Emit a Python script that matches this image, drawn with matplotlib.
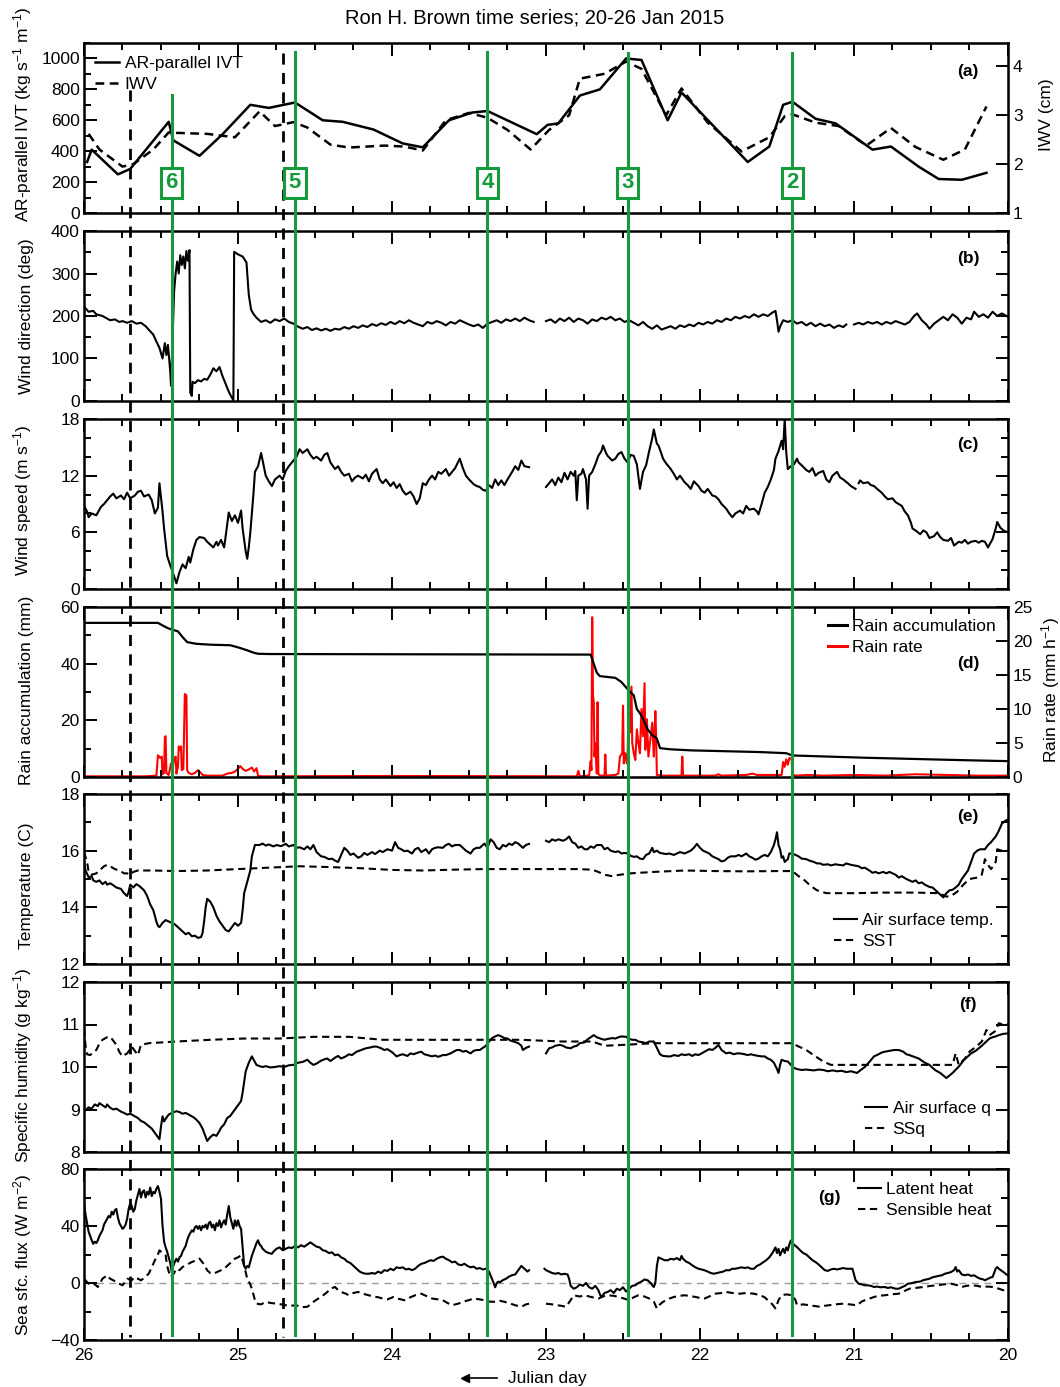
import numpy as np
import matplotlib.pyplot as plt
from matplotlib.lines import Line2D
from matplotlib.ticker import MultipleLocator
from matplotlib.transforms import blended_transform_factory

plt.rcParams['font.family'] = ['Liberation Sans', 'DejaVu Sans']
plt.rcParams['mathtext.default'] = 'regular'

nan = np.nan

''' Data: [julian day, value] '''
ivt = [[25.98, 330], [25.95, 410], [25.78, 250], [25.70, 285], [25.45, 590], [25.42, 470],
       [25.25, 370], [25.10, 510], [24.92, 700], [24.80, 680], [24.63, 715], [24.45, 600],
       [24.32, 590], [24.12, 540], [23.93, 450], [23.80, 425], [23.63, 600], [23.48, 650],
       [23.38, 660], [23.06, 510], [22.99, 570], [22.92, 580], [22.78, 760], [22.65, 800],
       [22.48, 1000], [22.38, 990], [22.21, 600], [22.12, 780], [21.69, 330], [21.55, 430],
       [21.46, 700], [21.40, 720], [21.25, 610], [21.12, 580], [20.88, 410], [20.76, 430],
       [20.58, 300], [20.45, 220], [20.30, 215], [20.14, 260]]

iwv = [[25.97, 2.62], [25.90, 2.30], [25.75, 1.95], [25.68, 2.00], [25.55, 2.30], [25.45, 2.65],
       [25.40, 2.64], [25.20, 2.62], [25.02, 2.55], [24.86, 3.08], [24.76, 2.78], [24.64, 2.86],
       [24.55, 2.75], [24.40, 2.40], [24.28, 2.34], [24.05, 2.38], [23.92, 2.36], [23.80, 2.28],
       [23.65, 2.90], [23.50, 3.05], [23.38, 2.95], [23.25, 2.70], [23.10, 2.30], [22.98, 2.70],
       [22.85, 3.00], [22.78, 3.75], [22.62, 3.85], [22.48, 4.10], [22.38, 3.95], [22.22, 3.00],
       [22.12, 3.55], [21.95, 2.85], [21.73, 2.26], [21.55, 2.55], [21.45, 2.98], [21.40, 3.02],
       [21.25, 2.85], [21.10, 2.78], [20.92, 2.38], [20.76, 2.74], [20.60, 2.35], [20.42, 2.09],
       [20.28, 2.30], [20.14, 3.18]]

wdir = [[26.00, 222], [25.97, 210], [25.94, 212], [25.92, 204], [25.88, 200], [25.85, 194],
        [25.83, 190], [25.80, 192], [25.77, 186], [25.75, 188], [25.72, 184], [25.69, 188],
        [25.66, 182], [25.63, 184], [25.60, 176], [25.58, 168], [25.55, 156], [25.53, 140],
        [25.51, 125], [25.49, 100], [25.475, 136], [25.465, 108], [25.455, 132], [25.44, 70],
        [25.435, 36], [25.425, 150], [25.415, 257], [25.405, 300], [25.395, 328], [25.385, 300],
        [25.375, 343], [25.365, 320], [25.355, 340], [25.345, 312], [25.335, 353], [25.325, 330],
        [25.315, 355], [25.31, 20], [25.30, 12], [25.295, 45], [25.28, 42], [25.26, 49],
        [25.24, 46], [25.22, 52], [25.20, 50], [25.18, 62], [25.16, 77], [25.14, 70],
        [25.12, 80], [25.10, 58], [25.08, 40], [25.06, 22], [25.04, 8], [25.03, 2],
        [25.025, 351], [25.00, 345], [24.97, 340], [24.945, 326], [24.93, 250], [24.915, 215],
        [24.90, 205], [24.88, 196], [24.85, 186], [24.82, 190], [24.79, 184], [24.76, 192],
        [24.73, 188], [24.70, 194], [24.67, 186], [24.64, 182], [24.61, 175], [24.58, 170],
        [24.55, 174], [24.52, 167], [24.49, 171], [24.46, 166], [24.43, 170], [24.40, 165],
        [24.37, 170], [24.34, 168], [24.31, 174], [24.28, 170], [24.25, 176], [24.22, 172],
        [24.19, 178], [24.16, 174], [24.13, 181], [24.10, 177], [24.07, 183], [24.04, 179],
        [24.01, 186], [23.98, 181], [23.95, 188], [23.92, 183], [23.89, 190], [23.86, 184],
        [23.83, 180], [23.80, 176], [23.77, 186], [23.74, 182], [23.71, 188], [23.68, 184],
        [23.65, 178], [23.62, 186], [23.59, 182], [23.56, 190], [23.53, 185], [23.50, 180],
        [23.47, 176], [23.44, 180], [23.41, 172], [23.38, 182], [23.35, 186], [23.32, 190],
        [23.29, 184], [23.26, 192], [23.23, 188], [23.20, 194], [23.17, 188], [23.14, 196],
        [23.11, 190], [23.08, 186], [23.05, nan], [23.00, 188], [22.97, 192], [22.94, 184],
        [22.91, 194], [22.88, 188], [22.85, 196], [22.82, 186], [22.79, 194], [22.76, 190],
        [22.73, 182], [22.70, 192], [22.67, 188], [22.64, 196], [22.61, 192], [22.58, 198],
        [22.55, 190], [22.52, 194], [22.49, 186], [22.46, 190], [22.43, 184], [22.40, 178],
        [22.37, 186], [22.34, 176], [22.31, 170], [22.28, 178], [22.25, 168], [22.22, 172],
        [22.19, 176], [22.16, 170], [22.13, 178], [22.10, 174], [22.07, 180], [22.04, 176],
        [22.01, 184], [21.98, 180], [21.95, 186], [21.92, 182], [21.89, 190], [21.86, 186],
        [21.83, 194], [21.80, 190], [21.77, 198], [21.74, 194], [21.71, 200], [21.68, 196],
        [21.65, 204], [21.62, 198], [21.59, 204], [21.56, 200], [21.53, 208], [21.51, 212],
        [21.50, 190], [21.49, 163], [21.48, 175], [21.46, 190], [21.43, 186], [21.40, 190],
        [21.37, 182], [21.34, 186], [21.31, 178], [21.28, 184], [21.25, 176], [21.22, 182],
        [21.19, 176], [21.16, 180], [21.13, 172], [21.10, 178], [21.07, 174], [21.05, 180],
        [21.025, nan], [21.00, 180], [20.97, 184], [20.94, 180], [20.91, 186], [20.88, 182],
        [20.85, 186], [20.82, 180], [20.79, 186], [20.76, 182], [20.73, 188], [20.70, 184],
        [20.67, 180], [20.64, 186], [20.61, 200], [20.59, 206], [20.56, 190], [20.53, 180],
        [20.51, 170], [20.48, 182], [20.45, 190], [20.42, 198], [20.39, 190], [20.36, 204],
        [20.33, 196], [20.30, 182], [20.27, 196], [20.24, 192], [20.22, 210], [20.19, 198],
        [20.16, 204], [20.13, 196], [20.10, 210], [20.07, 200], [20.04, 206], [20.00, 198]]

wspd = [[26.00, 8.8], [25.98, 8.2], [25.97, 7.6], [25.95, 8.0], [25.92, 7.8], [25.90, 8.4],
        [25.89, 8.7], [25.87, 9.0], [25.85, 9.4], [25.83, 9.8], [25.81, 10.1], [25.79, 9.6],
        [25.76, 9.9], [25.74, 9.5], [25.72, 10.2], [25.70, 9.6], [25.67, 9.9], [25.65, 10.3],
        [25.63, 10.4], [25.61, 9.8], [25.58, 10.0], [25.56, 9.4], [25.54, 8.0], [25.52, 8.6],
        [25.51, 11.2], [25.49, 8.2], [25.48, 6.4], [25.46, 3.5], [25.44, 2.5], [25.42, 1.6],
        [25.40, 0.6], [25.38, 1.8], [25.36, 2.6], [25.34, 2.2], [25.32, 3.4], [25.31, 2.8],
        [25.29, 4.2], [25.27, 5.2], [25.25, 5.5], [25.22, 5.4], [25.20, 5.0], [25.18, 4.7],
        [25.16, 4.4], [25.14, 5.0], [25.13, 4.6], [25.11, 5.2], [25.09, 4.4], [25.08, 5.6],
        [25.06, 8.1], [25.04, 7.2], [25.02, 7.8], [25.00, 7.0], [24.98, 8.3], [24.97, 6.4],
        [24.95, 4.0], [24.94, 3.2], [24.93, 4.4], [24.92, 6.0], [24.90, 10.0], [24.89, 12.4],
        [24.87, 13.0], [24.85, 14.4], [24.83, 12.8], [24.82, 12.0], [24.80, 11.4], [24.78, 10.9],
        [24.76, 11.6], [24.73, 12.0], [24.71, 11.6], [24.69, 12.5], [24.67, 13.0], [24.64, 13.6],
        [24.62, 14.0], [24.60, 14.8], [24.58, 14.4], [24.55, 14.8], [24.53, 14.2], [24.51, 13.8],
        [24.49, 14.0], [24.46, 13.6], [24.44, 14.2], [24.42, 14.4], [24.40, 13.4], [24.37, 12.7],
        [24.35, 13.0], [24.33, 12.4], [24.31, 12.0], [24.28, 12.2], [24.26, 11.4], [24.24, 11.8],
        [24.22, 12.0], [24.19, 11.7], [24.17, 12.1], [24.15, 11.4], [24.13, 12.2], [24.10, 12.7],
        [24.08, 11.6], [24.06, 11.2], [24.04, 11.6], [24.01, 10.9], [23.99, 11.3], [23.97, 10.7],
        [23.95, 11.1], [23.93, 10.4], [23.91, 10.0], [23.88, 10.3], [23.86, 9.8], [23.84, 9.0],
        [23.82, 9.6], [23.80, 11.2], [23.78, 11.0], [23.76, 11.6], [23.74, 12.0], [23.72, 11.6],
        [23.70, 12.4], [23.68, 12.2], [23.65, 12.7], [23.63, 12.0], [23.61, 12.4], [23.59, 12.8],
        [23.56, 13.8], [23.54, 12.8], [23.52, 12.0], [23.50, 11.6], [23.47, 11.1], [23.45, 10.9],
        [23.43, 10.8], [23.41, 10.5], [23.39, 10.4], [23.37, 11.0], [23.35, 10.7], [23.33, 11.6],
        [23.31, 11.0], [23.29, 11.5], [23.27, 11.0], [23.25, 11.6], [23.22, 12.4], [23.20, 13.0],
        [23.18, 12.6], [23.16, 13.6], [23.14, 13.0], [23.11, 12.9], [23.09, nan], [23.00, 10.8],
        [22.98, 11.2], [22.96, 11.6], [22.94, 11.0], [22.92, 11.8], [22.90, 11.3], [22.88, 12.3],
        [22.86, 11.6], [22.84, 12.4], [22.82, 12.0], [22.81, 12.5], [22.80, 9.4], [22.79, 12.0],
        [22.77, 12.2], [22.76, 12.7], [22.74, 11.6], [22.73, 8.5], [22.72, 12.0], [22.70, 12.4],
        [22.68, 13.2], [22.66, 14.1], [22.64, 14.6], [22.63, 15.2], [22.61, 14.4], [22.60, 14.1],
        [22.57, 13.6], [22.55, 13.8], [22.53, 14.3], [22.51, 14.5], [22.49, 13.8], [22.47, 13.4],
        [22.45, 14.2], [22.43, 14.1], [22.41, 13.2], [22.39, 10.6], [22.37, 12.4], [22.35, 13.1],
        [22.33, 14.6], [22.31, 16.0], [22.30, 16.9], [22.28, 15.4], [22.27, 15.2], [22.25, 14.3],
        [22.24, 13.8], [22.22, 13.3], [22.19, 12.7], [22.17, 12.2], [22.15, 11.6], [22.13, 12.0],
        [22.10, 11.3], [22.08, 11.0], [22.06, 10.6], [22.04, 11.4], [22.01, 10.9], [21.99, 10.4],
        [21.97, 10.2], [21.95, 10.6], [21.92, 9.9], [21.90, 9.8], [21.88, 9.5], [21.86, 9.0],
        [21.83, 8.5], [21.81, 8.0], [21.79, 7.6], [21.77, 8.0], [21.74, 8.3], [21.72, 8.0],
        [21.70, 8.8], [21.68, 8.4], [21.65, 8.5], [21.63, 8.2], [21.62, 7.9], [21.60, 9.0],
        [21.58, 10.2], [21.56, 10.8], [21.54, 11.6], [21.52, 12.6], [21.51, 13.8], [21.49, 14.6],
        [21.47, 15.7], [21.46, 14.8], [21.45, 18.0], [21.44, 14.5], [21.43, 12.7], [21.41, 13.0],
        [21.39, 13.2], [21.37, 13.8], [21.36, 13.4], [21.34, 13.1], [21.31, 12.6], [21.29, 12.4],
        [21.27, 12.8], [21.25, 12.0], [21.23, 12.3], [21.20, 12.5], [21.18, 11.6], [21.16, 11.3],
        [21.14, 12.0], [21.11, 12.4], [21.09, 11.8], [21.07, 11.6], [21.04, 11.2], [21.02, 10.9],
        [20.99, 10.6], [20.98, nan], [20.97, 11.2], [20.96, 11.5], [20.94, 11.2], [20.91, 11.3],
        [20.89, 11.0], [20.87, 10.9], [20.85, 10.6], [20.82, 10.2], [20.80, 9.8], [20.78, 9.5],
        [20.75, 9.6], [20.73, 9.2], [20.71, 9.0], [20.69, 8.8], [20.67, 8.2], [20.65, 7.8],
        [20.63, 7.0], [20.62, 6.4], [20.60, 6.2], [20.57, 5.8], [20.55, 6.2], [20.53, 6.0],
        [20.51, 5.4], [20.48, 5.6], [20.46, 6.0], [20.44, 5.5], [20.42, 5.2], [20.39, 5.1],
        [20.37, 5.4], [20.35, 4.6], [20.32, 5.0], [20.30, 4.9], [20.28, 5.2], [20.26, 4.8],
        [20.24, 5.0], [20.21, 5.1], [20.19, 4.9], [20.17, 5.1], [20.15, 5.0], [20.13, 4.4],
        [20.11, 5.0], [20.10, 5.3], [20.08, 6.4], [20.07, 7.1], [20.05, 6.5], [20.03, 6.2],
        [20.00, 6.0]]

rain_acc = [[26.00, 54.4], [25.52, 54.4], [25.48, 53.2], [25.45, 52.4], [25.39, 51.4], [25.36, 49.4],
            [25.33, 47.6], [25.27, 47.0], [25.18, 46.7], [25.05, 46.5], [24.99, 45.6], [24.94, 44.7],
            [24.90, 43.9], [24.87, 43.5], [24.80, 43.4], [22.71, 43.2], [22.69, 40.0], [22.67, 36.8],
            [22.65, 35.6], [22.55, 35.0], [22.51, 33.5], [22.47, 31.0], [22.43, 28.8], [22.41, 24.0],
            [22.39, 22.5], [22.37, 20.6], [22.34, 16.8], [22.31, 14.8], [22.28, 13.6], [22.26, 10.2],
            [22.20, 9.8], [22.06, 9.4], [21.61, 8.8], [21.44, 8.4], [21.40, 7.6], [20.93, 6.8],
            [20.26, 5.9], [20.00, 5.6]]

rain_rate = [[26.00, 0.1], [25.60, 0.1], [25.53, 0.2], [25.52, 3.2], [25.505, 2.8], [25.495, 3.0],
             [25.49, 0.4], [25.48, 0.6], [25.475, 5.9], [25.47, 6.0], [25.465, 0.6], [25.45, 0.3],
             [25.435, 2.0], [25.425, 1.2], [25.415, 2.6], [25.405, 3.0], [25.40, 0.5], [25.39, 1.5],
             [25.385, 4.5], [25.375, 4.0], [25.37, 4.5], [25.365, 1.0], [25.355, 1.2], [25.345, 12.2],
             [25.335, 12.0], [25.33, 1.0], [25.32, 0.6], [25.30, 0.4], [25.28, 0.6], [25.26, 1.0],
             [25.25, 0.8], [25.23, 0.3], [25.20, 0.2], [25.10, 0.2], [25.07, 0.5], [25.04, 0.6],
             [25.02, 0.8], [25.00, 1.2], [24.985, 1.6], [24.97, 1.2], [24.95, 0.9], [24.93, 1.1],
             [24.91, 1.4], [24.895, 0.8], [24.88, 1.3], [24.87, 0.2], [24.85, 0.1], [24.00, 0.15],
             [22.80, 0.1], [22.79, 0.9], [22.78, 0.1], [22.72, 0.2], [22.71, 2.3], [22.705, 1.0],
             [22.70, 23.5], [22.695, 12.0], [22.69, 11.0], [22.685, 3.0], [22.68, 5.0], [22.67, 0.5],
             [22.665, 11.0], [22.66, 0.5], [22.65, 0.2], [22.62, 0.2], [22.615, 3.3], [22.61, 0.2],
             [22.55, 0.3], [22.53, 0.5], [22.52, 3.0], [22.505, 3.5], [22.50, 10.5], [22.495, 2.0],
             [22.485, 3.5], [22.475, 2.0], [22.47, 3.0], [22.465, 9.5], [22.455, 6.5], [22.445, 13.3],
             [22.44, 5.0], [22.43, 3.5], [22.42, 2.5], [22.41, 7.0], [22.40, 5.0], [22.39, 3.5],
             [22.38, 10.0], [22.37, 6.0], [22.36, 13.8], [22.355, 4.0], [22.345, 8.5], [22.335, 3.0],
             [22.325, 5.0], [22.31, 8.0], [22.30, 3.0], [22.29, 9.7], [22.285, 6.0], [22.28, 0.3],
             [22.25, 0.2], [22.12, 0.2], [22.115, 3.0], [22.11, 0.2], [21.90, 0.2], [21.88, 0.4],
             [21.86, 0.2], [21.70, 0.3], [21.66, 0.5], [21.63, 0.3], [21.47, 0.3], [21.46, 2.2],
             [21.45, 1.5], [21.44, 2.6], [21.43, 1.8], [21.42, 2.8], [21.405, 2.6], [21.40, 0.4],
             [21.38, 0.2], [21.30, 0.3], [21.20, 0.2], [21.00, 0.3], [20.80, 0.2], [20.60, 0.4],
             [20.40, 0.3], [20.20, 0.2], [20.00, 0.2]]

t_air = [[26.00, 15.6], [25.99, 15.3], [25.97, 15.06], [25.95, 15.1], [25.94, 14.95], [25.92, 14.9],
         [25.90, 14.95], [25.88, 14.82], [25.86, 14.9], [25.85, 14.8], [25.83, 14.85], [25.81, 14.78],
         [25.79, 14.7], [25.76, 14.65], [25.74, 14.5], [25.72, 14.4], [25.71, 14.55], [25.70, 14.8],
         [25.68, 14.7], [25.66, 14.82], [25.64, 14.75], [25.61, 14.6], [25.59, 14.4], [25.57, 14.1],
         [25.55, 13.9], [25.53, 13.5], [25.52, 13.35], [25.51, 13.3], [25.49, 13.45], [25.47, 13.55],
         [25.45, 13.5], [25.43, 13.45], [25.41, 13.4], [25.38, 13.25], [25.36, 13.15], [25.34, 13.05],
         [25.32, 13.1], [25.30, 12.98], [25.28, 13.0], [25.26, 12.92], [25.24, 12.95], [25.23, 13.1],
         [25.22, 13.5], [25.21, 14.0], [25.20, 14.3], [25.18, 14.2], [25.16, 14.0], [25.14, 13.7],
         [25.12, 13.5], [25.10, 13.35], [25.08, 13.2], [25.06, 13.15], [25.04, 13.3], [25.02, 13.45],
         [25.00, 13.35], [24.98, 13.45], [24.97, 13.9], [24.96, 14.5], [24.94, 14.9], [24.92, 15.3],
         [24.91, 15.8], [24.89, 16.2], [24.86, 16.2], [24.84, 16.25], [24.82, 16.18], [24.80, 16.22],
         [24.77, 16.15], [24.75, 16.2], [24.72, 16.16], [24.69, 16.24], [24.67, 16.15], [24.64, 16.2],
         [24.62, 16.1], [24.60, 16.12], [24.57, 16.05], [24.55, 16.15], [24.53, 16.05], [24.51, 16.2],
         [24.49, 15.95], [24.46, 15.8], [24.44, 15.78], [24.41, 15.7], [24.39, 15.72], [24.37, 15.65],
         [24.35, 15.6], [24.33, 15.85], [24.31, 16.1], [24.29, 16.0], [24.27, 15.85], [24.25, 15.9],
         [24.22, 15.75], [24.20, 15.8], [24.18, 15.92], [24.16, 15.85], [24.13, 15.95], [24.11, 15.88],
         [24.08, 16.0], [24.06, 15.95], [24.03, 16.05], [24.00, 16.0], [23.98, 16.3], [23.96, 16.1],
         [23.94, 16.05], [23.92, 15.98], [23.90, 16.0], [23.87, 15.9], [23.85, 16.05], [23.83, 16.1],
         [23.81, 15.95], [23.78, 16.05], [23.76, 15.9], [23.74, 16.05], [23.72, 16.1], [23.70, 16.12],
         [23.67, 16.1], [23.65, 16.2], [23.63, 16.24], [23.61, 16.15], [23.59, 16.2], [23.56, 16.2],
         [23.54, 16.1], [23.52, 16.0], [23.49, 15.9], [23.47, 16.05], [23.45, 16.1], [23.43, 16.1],
         [23.40, 16.25], [23.38, 16.1], [23.36, 16.4], [23.34, 16.3], [23.32, 16.1], [23.30, 16.05],
         [23.28, 16.2], [23.26, 16.15], [23.24, 16.25], [23.22, 16.2], [23.20, 16.3], [23.18, 16.25],
         [23.15, 16.1], [23.13, 16.2], [23.11, 16.24], [23.09, nan], [23.00, 16.35], [22.98, 16.3],
         [22.96, 16.4], [22.94, 16.35], [22.92, 16.4], [22.89, 16.35], [22.87, 16.4], [22.85, 16.5],
         [22.83, 16.3], [22.81, 16.25], [22.79, 16.1], [22.77, 16.15], [22.75, 16.05], [22.73, 16.05],
         [22.71, 16.15], [22.69, 16.1], [22.67, 16.2], [22.64, 16.2], [22.62, 16.05], [22.60, 16.1],
         [22.58, 16.0], [22.55, 15.95], [22.53, 15.98], [22.51, 15.9], [22.49, 15.92], [22.47, 15.9],
         [22.45, 15.82], [22.43, 15.78], [22.41, 15.8], [22.39, 15.72], [22.37, 15.7], [22.35, 15.85],
         [22.33, 15.9], [22.31, 16.1], [22.30, 15.95], [22.28, 16.0], [22.26, 15.92], [22.24, 15.9],
         [22.22, 15.88], [22.20, 15.9], [22.17, 15.85], [22.15, 15.9], [22.13, 15.95], [22.10, 15.9],
         [22.08, 15.95], [22.06, 16.0], [22.04, 16.1], [22.02, 16.24], [22.00, 16.1], [21.98, 16.0],
         [21.96, 15.95], [21.94, 15.9], [21.92, 15.8], [21.90, 15.75], [21.88, 15.7], [21.86, 15.62],
         [21.84, 15.65], [21.82, 15.75], [21.80, 15.8], [21.77, 15.8], [21.75, 15.85], [21.73, 15.8],
         [21.70, 15.9], [21.68, 15.8], [21.66, 15.75], [21.64, 15.68], [21.62, 15.72], [21.60, 15.8],
         [21.58, 15.85], [21.56, 15.8], [21.54, 15.95], [21.52, 16.2], [21.51, 16.4], [21.50, 16.65],
         [21.49, 16.2], [21.48, 16.05], [21.47, 15.75], [21.46, 15.8], [21.45, 15.6], [21.43, 15.7],
         [21.42, 15.9], [21.40, 15.9], [21.38, 15.85], [21.36, 15.8], [21.34, 15.72], [21.31, 15.7],
         [21.29, 15.65], [21.26, 15.6], [21.24, 15.55], [21.22, 15.55], [21.20, 15.5], [21.17, 15.52],
         [21.15, 15.48], [21.12, 15.52], [21.10, 15.5], [21.07, 15.48], [21.05, 15.55], [21.02, 15.5],
         [21.00, 15.48], [20.97, 15.45], [20.95, 15.38], [20.93, 15.4], [20.90, 15.3], [20.88, 15.22],
         [20.86, 15.25], [20.84, 15.2], [20.81, 15.25], [20.79, 15.2], [20.77, 15.25], [20.75, 15.2],
         [20.73, 15.15], [20.71, 15.05], [20.69, 15.1], [20.66, 15.0], [20.64, 14.95], [20.62, 14.9],
         [20.60, 14.95], [20.58, 14.85], [20.56, 14.88], [20.54, 14.8], [20.51, 14.72], [20.49, 14.7],
         [20.47, 14.6], [20.45, 14.5], [20.43, 14.4], [20.42, 14.35], [20.40, 14.5], [20.38, 14.6],
         [20.36, 14.62], [20.34, 14.7], [20.32, 14.8], [20.30, 15.0], [20.28, 15.15], [20.26, 15.3],
         [20.24, 15.6], [20.22, 15.9], [20.20, 16.0], [20.18, 16.05], [20.15, 16.05], [20.13, 16.2],
         [20.11, 16.3], [20.08, 16.5], [20.06, 16.7], [20.04, 16.95], [20.02, 17.05], [20.00, 17.1]]

sst = [[26.00, 15.95], [25.98, 15.6], [25.97, 15.25], [25.95, 15.15], [25.92, 15.2], [25.89, 15.35],
       [25.87, 15.45], [25.85, 15.5], [25.83, 15.45], [25.80, 15.35], [25.77, 15.3], [25.74, 15.2],
       [25.72, 15.2], [25.70, 15.15], [25.68, 15.25], [25.65, 15.3], [25.55, 15.3], [25.40, 15.28],
       [25.20, 15.3], [25.00, 15.35], [24.80, 15.4], [24.60, 15.45], [24.40, 15.42], [24.20, 15.38],
       [24.00, 15.32], [23.80, 15.3], [23.60, 15.33], [23.40, 15.35], [23.20, 15.35], [23.00, 15.35],
       [22.80, 15.35], [22.70, 15.33], [22.66, 15.25], [22.62, 15.15], [22.57, 15.1], [22.52, 15.15],
       [22.45, 15.2], [22.30, 15.25], [22.10, 15.3], [21.90, 15.28], [21.70, 15.27], [21.50, 15.28],
       [21.40, 15.28], [21.36, 15.1], [21.32, 14.95], [21.28, 14.75], [21.24, 14.6], [21.18, 14.5],
       [21.00, 14.5], [20.80, 14.52], [20.60, 14.52], [20.45, 14.5], [20.40, 14.38], [20.37, 14.4],
       [20.33, 14.55], [20.29, 14.8], [20.25, 15.0], [20.20, 15.05], [20.17, 15.15], [20.15, 15.7],
       [20.13, 15.5], [20.11, 15.35], [20.08, 15.6], [20.07, 16.05], [20.04, 16.0], [20.00, 16.0]]

q_air = [[26.00, 9.0], [25.99, 8.98], [25.97, 9.05], [25.95, 9.02], [25.93, 9.12], [25.91, 9.08],
         [25.90, 9.15], [25.88, 9.1], [25.86, 9.05], [25.85, 9.12], [25.83, 9.04], [25.81, 9.0],
         [25.79, 9.02], [25.76, 8.95], [25.74, 8.92], [25.72, 8.88], [25.70, 8.9], [25.67, 8.84],
         [25.65, 8.8], [25.63, 8.73], [25.61, 8.7], [25.58, 8.61], [25.56, 8.55], [25.54, 8.45],
         [25.53, 8.4], [25.51, 8.3], [25.50, 8.6], [25.49, 8.84], [25.48, 8.72], [25.47, 8.78],
         [25.45, 8.88], [25.43, 8.92], [25.40, 8.96], [25.38, 8.94], [25.36, 8.9], [25.34, 8.92],
         [25.31, 8.86], [25.29, 8.82], [25.27, 8.76], [25.25, 8.68], [25.23, 8.55], [25.22, 8.45],
         [25.20, 8.26], [25.18, 8.35], [25.16, 8.41], [25.14, 8.38], [25.12, 8.5], [25.11, 8.57],
         [25.09, 8.65], [25.07, 8.8], [25.05, 8.85], [25.03, 8.95], [25.02, 9.0], [25.00, 9.1],
         [24.98, 9.2], [24.97, 9.4], [24.96, 9.65], [24.95, 9.9], [24.93, 10.1], [24.91, 10.25],
         [24.90, 10.18], [24.88, 10.05], [24.86, 10.02], [24.84, 10.0], [24.82, 10.02], [24.79, 9.99],
         [24.76, 10.0], [24.73, 10.02], [24.70, 10.0], [24.67, 10.04], [24.64, 10.05], [24.61, 10.1],
         [24.58, 10.12], [24.55, 10.17], [24.53, 10.1], [24.51, 10.05], [24.49, 10.08], [24.46, 10.15],
         [24.44, 10.18], [24.42, 10.2], [24.40, 10.14], [24.37, 10.22], [24.35, 10.26], [24.33, 10.2],
         [24.30, 10.25], [24.28, 10.3], [24.26, 10.28], [24.23, 10.36], [24.20, 10.4], [24.17, 10.44],
         [24.14, 10.46], [24.12, 10.48], [24.10, 10.48], [24.07, 10.44], [24.05, 10.4], [24.03, 10.42],
         [24.00, 10.35], [23.97, 10.25], [23.95, 10.28], [23.93, 10.3], [23.90, 10.26], [23.88, 10.32],
         [23.86, 10.3], [23.83, 10.34], [23.81, 10.36], [23.79, 10.3], [23.77, 10.28], [23.74, 10.25],
         [23.72, 10.27], [23.70, 10.24], [23.67, 10.28], [23.65, 10.28], [23.62, 10.32], [23.60, 10.36],
         [23.58, 10.4], [23.56, 10.4], [23.54, 10.36], [23.52, 10.38], [23.49, 10.32], [23.47, 10.38],
         [23.45, 10.4], [23.43, 10.4], [23.41, 10.45], [23.39, 10.5], [23.37, 10.6], [23.35, 10.68],
         [23.33, 10.72], [23.31, 10.75], [23.29, 10.72], [23.27, 10.68], [23.25, 10.67], [23.23, 10.62],
         [23.21, 10.6], [23.18, 10.56], [23.16, 10.5], [23.15, 10.4], [23.13, 10.45], [23.11, 10.48],
         [23.09, nan], [23.00, 10.32], [22.98, 10.44], [22.96, 10.46], [22.94, 10.5], [22.91, 10.52],
         [22.89, 10.5], [22.87, 10.46], [22.84, 10.44], [22.82, 10.48], [22.80, 10.5], [22.78, 10.56],
         [22.75, 10.58], [22.73, 10.65], [22.71, 10.7], [22.69, 10.75], [22.67, 10.7], [22.64, 10.66],
         [22.62, 10.64], [22.60, 10.66], [22.57, 10.68], [22.55, 10.67], [22.53, 10.7], [22.51, 10.72],
         [22.48, 10.71], [22.46, 10.66], [22.44, 10.64], [22.42, 10.64], [22.40, 10.6], [22.37, 10.58],
         [22.35, 10.56], [22.33, 10.6], [22.30, 10.6], [22.28, 10.45], [22.26, 10.3], [22.24, 10.26],
         [22.21, 10.25], [22.19, 10.25], [22.17, 10.28], [22.14, 10.26], [22.12, 10.3], [22.10, 10.28],
         [22.07, 10.3], [22.05, 10.26], [22.03, 10.3], [22.01, 10.28], [21.98, 10.34], [21.96, 10.38],
         [21.94, 10.42], [21.92, 10.4], [21.90, 10.45], [21.88, 10.52], [21.86, 10.4], [21.83, 10.32],
         [21.81, 10.34], [21.78, 10.3], [21.76, 10.32], [21.74, 10.32], [21.71, 10.3], [21.69, 10.28],
         [21.67, 10.3], [21.65, 10.28], [21.62, 10.26], [21.60, 10.25], [21.58, 10.25], [21.56, 10.2],
         [21.54, 10.17], [21.52, 10.1], [21.50, 9.95], [21.49, 9.86], [21.48, 10.05], [21.47, 10.17],
         [21.45, 10.14], [21.43, 10.13], [21.41, 10.05], [21.39, 9.98], [21.37, 9.95], [21.34, 9.93],
         [21.31, 9.94], [21.29, 9.93], [21.26, 9.92], [21.23, 9.94], [21.20, 9.93], [21.17, 9.9],
         [21.14, 9.92], [21.11, 9.9], [21.08, 9.91], [21.05, 9.88], [21.02, 9.9], [21.00, 9.88],
         [20.98, 9.86], [20.96, 9.92], [20.93, 10.0], [20.90, 10.12], [20.87, 10.25], [20.84, 10.3],
         [20.82, 10.34], [20.80, 10.36], [20.77, 10.38], [20.74, 10.4], [20.71, 10.4], [20.68, 10.36],
         [20.66, 10.3], [20.64, 10.28], [20.61, 10.24], [20.58, 10.2], [20.56, 10.15], [20.54, 10.1],
         [20.51, 10.05], [20.49, 9.98], [20.47, 9.92], [20.44, 9.86], [20.42, 9.8], [20.40, 9.74],
         [20.38, 9.8], [20.36, 9.86], [20.33, 9.97], [20.31, 10.05], [20.29, 10.15], [20.26, 10.25],
         [20.24, 10.32], [20.21, 10.38], [20.19, 10.44], [20.17, 10.5], [20.14, 10.6], [20.12, 10.67],
         [20.10, 10.7], [20.08, 10.72], [20.06, 10.75], [20.03, 10.78], [20.00, 10.79]]

ssq = [[26.00, 10.9], [25.99, 10.5], [25.98, 10.3], [25.96, 10.28], [25.94, 10.35], [25.92, 10.4],
       [25.90, 10.55], [25.88, 10.64], [25.85, 10.7], [25.83, 10.71], [25.81, 10.62], [25.79, 10.52],
       [25.77, 10.35], [25.75, 10.25], [25.73, 10.3], [25.72, 10.32], [25.70, 10.42], [25.69, 10.48],
       [25.67, 10.38], [25.65, 10.28], [25.64, 10.4], [25.63, 10.52], [25.58, 10.56], [25.40, 10.6],
       [25.18, 10.64], [24.96, 10.67], [24.73, 10.67], [24.51, 10.71], [24.28, 10.71], [24.06, 10.64],
       [23.83, 10.64], [23.61, 10.64], [23.38, 10.64], [23.16, 10.64], [22.90, 10.6], [22.70, 10.6],
       [22.62, 10.5], [22.50, 10.52], [22.30, 10.56], [22.00, 10.56], [21.70, 10.56], [21.40, 10.56],
       [21.37, 10.5], [21.31, 10.4], [21.25, 10.25], [21.20, 10.13], [21.15, 10.05], [20.90, 10.05],
       [20.60, 10.05], [20.36, 10.05], [20.34, 10.32], [20.32, 10.05], [20.28, 10.2], [20.25, 10.36],
       [20.20, 10.5], [20.17, 10.6], [20.14, 10.87], [20.12, 10.75], [20.08, 10.85], [20.06, 11.03],
       [20.03, 11.0], [20.00, 11.0]]

latent = [[26.00, 56], [25.99, 48], [25.98, 42], [25.97, 36], [25.96, 33], [25.95, 30], [25.94, 27.5],
          [25.93, 29], [25.92, 28], [25.91, 30], [25.90, 33], [25.89, 35], [25.88, 37], [25.87, 41],
          [25.86, 43], [25.85, 45], [25.84, 47], [25.83, 46], [25.82, 50], [25.81, 48], [25.80, 51],
          [25.79, 52], [25.78, 46], [25.77, 42], [25.76, 40], [25.75, 38], [25.74, 39], [25.73, 41],
          [25.72, 45], [25.71, 52], [25.70, 56], [25.69, 54], [25.68, 50], [25.67, 52], [25.66, 58],
          [25.65, 62], [25.64, 66], [25.63, 60], [25.62, 64], [25.61, 65], [25.60, 60], [25.59, 64],
          [25.58, 62], [25.57, 67], [25.56, 61], [25.55, 64], [25.54, 63], [25.53, 66], [25.52, 68],
          [25.51, 64], [25.50, 59], [25.49, 40], [25.48, 29], [25.47, 25], [25.46, 22], [25.45, 18],
          [25.44, 14], [25.43, 7.7], [25.42, 12], [25.41, 15], [25.40, 17], [25.39, 15], [25.38, 18],
          [25.37, 19], [25.36, 22], [25.35, 24], [25.34, 26], [25.33, 30], [25.32, 33], [25.31, 35],
          [25.30, 37], [25.29, 36], [25.28, 39], [25.27, 40], [25.26, 38], [25.25, 40], [25.24, 37],
          [25.23, 40], [25.22, 39], [25.21, 41], [25.20, 38], [25.19, 42], [25.18, 43], [25.17, 39],
          [25.16, 41], [25.15, 37], [25.14, 42], [25.13, 40], [25.12, 44], [25.11, 39], [25.10, 42],
          [25.09, 44], [25.08, 41], [25.07, 48], [25.06, 54], [25.05, 46], [25.04, 42], [25.03, 38],
          [25.02, 44], [25.01, 40], [25.00, 44], [24.99, 40], [24.98, 38], [24.97, 25], [24.96, 12],
          [24.95, 10], [24.94, 12], [24.93, 11], [24.92, 15], [24.91, 19], [24.90, 22], [24.89, 25],
          [24.88, 28], [24.87, 30], [24.86, 27], [24.85, 26], [24.84, 24], [24.83, 23], [24.82, 22],
          [24.80, 21], [24.78, 20.5], [24.77, 22], [24.75, 24], [24.73, 25], [24.71, 23], [24.69, 24],
          [24.67, 25], [24.65, 24.5], [24.63, 26], [24.61, 25], [24.59, 26.5], [24.57, 25.5], [24.55, 27],
          [24.53, 28.5], [24.51, 27], [24.49, 25.5], [24.47, 25], [24.45, 23], [24.43, 22.5], [24.41, 21],
          [24.39, 21.5], [24.37, 19.5], [24.35, 20], [24.33, 18], [24.31, 17], [24.29, 15], [24.27, 14],
          [24.25, 12], [24.23, 10], [24.21, 8], [24.19, 7], [24.17, 6.5], [24.15, 6.5], [24.13, 7],
          [24.11, 6.5], [24.09, 8], [24.07, 7], [24.05, 9], [24.03, 8.5], [24.01, 10], [23.99, 9],
          [23.97, 11], [23.95, 10.5], [23.93, 11], [23.91, 9.5], [23.89, 10], [23.87, 9], [23.85, 10],
          [23.83, 12], [23.81, 13.5], [23.79, 14], [23.77, 15], [23.75, 16], [23.73, 15.5], [23.71, 17],
          [23.69, 18], [23.67, 18.5], [23.65, 17], [23.63, 16], [23.61, 14.5], [23.59, 15], [23.57, 13],
          [23.55, 12.5], [23.53, 13.5], [23.51, 12], [23.49, 11], [23.47, 11.5], [23.45, 10], [23.43, 10.5],
          [23.41, 9.5], [23.39, 10], [23.37, 8], [23.36, 5.4], [23.35, 3], [23.34, 0], [23.33, -3],
          [23.32, 0], [23.31, 1], [23.30, 0.5], [23.28, 2], [23.26, 3], [23.24, 4.5], [23.22, 5.5],
          [23.20, 6], [23.18, 9], [23.16, 12], [23.14, 10], [23.12, 8], [23.11, 9], [23.09, nan],
          [23.01, 10], [23.00, 9], [22.98, 8], [22.96, 7], [22.94, 6.5], [22.92, 7], [22.90, 6],
          [22.88, 6.5], [22.86, 6], [22.85, 3], [22.84, -2], [22.83, -3], [22.82, -4], [22.80, -3],
          [22.78, -1], [22.76, -2], [22.74, 0], [22.72, -3], [22.70, -4], [22.68, -2], [22.66, -5],
          [22.65, -8], [22.64, -9.8], [22.62, -7], [22.60, -6.3], [22.58, -5], [22.56, -7], [22.54, -4],
          [22.52, -5], [22.50, -3], [22.48, -6], [22.46, -4], [22.44, -2], [22.42, -1.6], [22.40, 0],
          [22.38, 1], [22.36, 2.5], [22.34, 1.9], [22.32, 0], [22.31, -1.6], [22.30, -2.8], [22.29, 0],
          [22.28, 12], [22.27, 18], [22.25, 17], [22.23, 16], [22.21, 15.9], [22.19, 17], [22.17, 16.5],
          [22.15, 17.5], [22.13, 16], [22.12, 19], [22.11, 17], [22.09, 15], [22.07, 14], [22.05, 12.4],
          [22.03, 11], [22.01, 10], [21.99, 9.5], [21.97, 8.9], [21.95, 8], [21.93, 7], [21.91, 6.5],
          [21.89, 7], [21.87, 7.5], [21.85, 8], [21.83, 9], [21.81, 8.9], [21.79, 10], [21.77, 10],
          [21.75, 10.5], [21.73, 11], [21.71, 10.5], [21.69, 11], [21.67, 10], [21.65, 10], [21.63, 12],
          [21.61, 13], [21.59, 14.5], [21.57, 16], [21.55, 18], [21.53, 21], [21.52, 23], [21.51, 25],
          [21.50, 21], [21.49, 24], [21.48, 19.4], [21.47, 22], [21.46, 24], [21.45, 21], [21.44, 25],
          [21.43, 22.9], [21.42, 27], [21.41, 29.8], [21.40, 28], [21.39, 27], [21.38, 26], [21.37, 25.2],
          [21.35, 23], [21.33, 21], [21.31, 20], [21.29, 18], [21.27, 16], [21.25, 14.7], [21.23, 13],
          [21.21, 11], [21.19, 9], [21.17, 8.5], [21.15, 9.5], [21.13, 10], [21.11, 9.5], [21.09, 10],
          [21.07, 10.5], [21.05, 10], [21.03, 10], [21.01, 10], [21.00, 6], [20.99, 2], [20.97, -0.5],
          [20.95, -1], [20.93, -1.6], [20.91, -1.6], [20.89, -2], [20.87, -2.8], [20.85, -2.5],
          [20.83, -3], [20.80, -2.8], [20.78, -3.5], [20.76, -3], [20.73, -4], [20.71, -4], [20.69, -3],
          [20.67, -2], [20.65, -0.5], [20.62, 0], [20.60, 0.7], [20.57, 1], [20.55, 2], [20.53, 2.5],
          [20.51, 3], [20.49, 4], [20.47, 4.5], [20.45, 5], [20.43, 5.4], [20.41, 6.5], [20.39, 7],
          [20.37, 7.7], [20.35, 9], [20.34, 11.2], [20.33, 8], [20.32, 9], [20.30, 6], [20.28, 5.4],
          [20.26, 6], [20.24, 5], [20.22, 5.4], [20.20, 4], [20.18, 3], [20.16, 2.5], [20.15, 1.9],
          [20.13, 3], [20.11, 4], [20.10, 4.2], [20.09, 7], [20.08, 10], [20.07, 11.2], [20.06, 10],
          [20.04, 8.5], [20.03, 7.7], [20.01, 6], [20.00, 5.4]]

sensible = [[26.00, 3], [25.97, -0.5], [25.94, 0], [25.91, -2.8], [25.89, 1], [25.88, 3], [25.85, 5.4],
            [25.83, 3], [25.81, 1.9], [25.78, 0], [25.75, -1.6], [25.73, 1], [25.72, 3], [25.69, 2],
            [25.67, 4.2], [25.65, 3], [25.63, 1.9], [25.61, 3.5], [25.58, 6.5], [25.56, 11], [25.54, 15.9],
            [25.52, 20], [25.51, 22.9], [25.49, 21], [25.47, 19.4], [25.46, 12], [25.44, 4.2], [25.42, 6],
            [25.40, 10], [25.38, 9], [25.36, 11.2], [25.33, 13], [25.30, 14.7], [25.27, 16], [25.25, 17.1],
            [25.22, 13], [25.20, 8.9], [25.18, 7], [25.16, 6.5], [25.13, 8], [25.11, 9], [25.09, 10],
            [25.06, 13], [25.04, 15], [25.02, 17.1], [25.00, 18], [24.98, 19.4], [24.96, 12], [24.94, 3],
            [24.92, -1], [24.91, -4], [24.90, -8], [24.89, -12], [24.88, -14.5], [24.85, -15],
            [24.82, -13.2], [24.79, -14], [24.75, -14.5], [24.72, -15], [24.69, -15.6], [24.66, -16],
            [24.62, -15.6], [24.59, -17], [24.55, -16.7], [24.53, -15], [24.51, -13.2], [24.48, -11],
            [24.46, -9.8], [24.44, -8], [24.42, -6.3], [24.40, -4], [24.37, -2.8], [24.35, -5],
            [24.33, -6.3], [24.30, -7.5], [24.28, -8.6], [24.25, -7], [24.22, -6.3], [24.19, -7.5],
            [24.15, -8.6], [24.12, -9.5], [24.09, -10], [24.06, -10.9], [24.03, -11.5], [23.99, -9.8],
            [23.96, -11], [23.92, -12.1], [23.88, -10], [23.85, -8.6], [23.81, -7.5], [23.78, -9],
            [23.74, -10.9], [23.70, -11.5], [23.67, -12.1], [23.64, -14], [23.61, -15.6], [23.57, -14.5],
            [23.54, -13.2], [23.50, -12], [23.47, -10.9], [23.43, -11.5], [23.40, -12.1], [23.37, -13],
            [23.34, -13.2], [23.30, -12.5], [23.27, -13.2], [23.23, -14.5], [23.20, -15.6], [23.16, -16.7],
            [23.13, -15], [23.11, -14.5], [23.09, nan], [23.00, -14.5], [22.96, -15], [22.93, -15.6],
            [22.90, -16], [22.87, -16.7], [22.84, -12], [22.82, -8.6], [22.78, -9.5], [22.75, -8.6],
            [22.70, -10], [22.66, -10.9], [22.63, -9.5], [22.60, -8.6], [22.56, -9], [22.53, -9.8],
            [22.49, -11], [22.46, -12.1], [22.43, -10], [22.40, -8.6], [22.36, -9.5], [22.33, -10.9],
            [22.30, -13], [22.28, -17.9], [22.26, -15], [22.24, -13.2], [22.20, -11], [22.17, -9.8],
            [22.13, -9], [22.10, -8.6], [22.06, -9.2], [22.03, -9.8], [22.00, -10.5], [21.97, -10.9],
            [21.93, -9], [21.90, -7.5], [21.86, -7], [21.83, -6.3], [21.79, -7], [21.74, -7.5],
            [21.70, -7], [21.65, -7.5], [21.61, -8.6], [21.58, -10], [21.56, -12.1], [21.53, -15],
            [21.51, -17.9], [21.49, -12], [21.47, -8.6], [21.44, -8], [21.40, -8.6], [21.38, -12],
            [21.37, -15.6], [21.33, -15], [21.29, -15.6], [21.26, -16], [21.22, -16.7], [21.19, -16],
            [21.16, -15.6], [21.12, -15], [21.07, -14.5], [21.03, -15], [20.98, -15.6], [20.95, -13],
            [20.93, -12.1], [20.90, -11], [20.87, -9.8], [20.84, -9], [20.80, -8.6], [20.76, -8],
            [20.71, -7.5], [20.68, -6], [20.64, -4], [20.60, -3.5], [20.55, -2.8], [20.50, -2],
            [20.46, -1.6], [20.42, -1], [20.37, -0.5], [20.33, -1.5], [20.30, -2.8], [20.27, -2],
            [20.24, -1.6], [20.20, -2], [20.17, -2.8], [20.13, -2.5], [20.10, -2.8], [20.06, -4],
            [20.03, -5.1], [20.00, -4]]

# event markers (julian day)
event_days = [25.43, 24.63, 23.38, 22.47, 21.40]
event_labels = ['6', '5', '4', '3', '2']
front_days = [25.70, 24.71]

''' Layout (pixels) '''
W, H = 1060, 1387
green = '#159a3c'
lw_data = 1.5
panel_px = [(43, 213), (231, 401), (419, 589), (607, 777), (794, 964), (982, 1152), (1169, 1340)]
left_px, right_px = 84, 1008

fig = plt.figure(figsize=(W / 100, H / 100), dpi=100)
axes = []
for top, bot in panel_px:
    ax = fig.add_axes([left_px / W, 1 - bot / H, (right_px - left_px) / W, (bot - top) / H])
    axes.append(ax)


def xy(series):
    arr = np.array(series, dtype=float)
    return arr[:, 0], arr[:, 1]


def style(ax, ylim, major, minor=None, right=True, bottom_labels=False):
    ax.set_xlim(26, 20)
    ax.set_ylim(*ylim)
    ax.xaxis.set_major_locator(MultipleLocator(1))
    ax.xaxis.set_minor_locator(MultipleLocator(0.25))
    ax.yaxis.set_major_locator(MultipleLocator(major))
    if minor:
        ax.yaxis.set_minor_locator(MultipleLocator(minor))
    ax.tick_params(which='both', direction='in', top=True, right=right, width=1.4,
                   labelsize=12.5, pad=3)
    ax.tick_params(which='major', length=9)
    ax.tick_params(which='minor', length=5)
    ax.tick_params(axis='x', labelbottom=bottom_labels)
    for sp in ax.spines.values():
        sp.set_linewidth(1.8)


def ylab(ax, text, yc=0.5, side='left'):
    if side == 'left':
        ax.set_ylabel(text, fontsize=12.5)
        ax.yaxis.set_label_coords(-0.054, yc)
    else:
        ax.set_ylabel(text, fontsize=12.5, rotation=90)
        ax.yaxis.set_label_position('right')
        ax.yaxis.set_label_coords(1.034, yc)


def letter(ax, s, x=0.957, y=0.84):
    ax.text(x, y, s, transform=ax.transAxes, ha='center', va='center',
            fontsize=12.5, fontweight='bold')


def legend(ax, x, y, handles=None, hl=1.3):
    kw = dict(loc='upper left', bbox_to_anchor=(x, y), frameon=False, fontsize=12.5,
              handlelength=hl, handletextpad=0.3, labelspacing=0.35, borderpad=0,
              borderaxespad=0)
    if handles is not None:
        kw['handles'] = handles
    ax.legend(**kw)


dash = (0, (3.5, 2.2))

''' (a) IVT and IWV '''
ax = axes[0]
t, v = xy(ivt)
ax.plot(t, v, color='black', lw=1.8, label='AR-parallel IVT')
ax.plot([], [], color='black', lw=1.8, ls=dash, label='IWV')
style(ax, (0, 1100), 200, 100, right=False)
ylab(ax, 'AR-parallel IVT (kg s$^{-1}$ m$^{-1}$)', 0.58)
ax2 = ax.twinx()
t, v = xy(iwv)
ax2.plot(t, v, color='black', lw=1.8, ls=dash)
ax2.set_ylim(1, 4.48)
ax2.yaxis.set_major_locator(MultipleLocator(1))
ax2.tick_params(direction='in', length=9, width=1.4, labelsize=12.5)
ylab(ax2, 'IWV (cm)', 0.58, side='right')
legend(ax, 0.012, 0.925, hl=1.4)
letter(ax, '(a)', y=0.83)

''' (b) wind direction '''
ax = axes[1]
t, v = xy(wdir)
ax.plot(t, v, color='black', lw=lw_data)
style(ax, (0, 400), 100, 50)
ylab(ax, 'Wind direction (deg)', 0.5)
letter(ax, '(b)', y=0.84)

''' (c) wind speed '''
ax = axes[2]
t, v = xy(wspd)
ax.plot(t, v, color='black', lw=lw_data)
style(ax, (0, 18), 6, 2)
ylab(ax, 'Wind speed (m s$^{-1}$)', 0.52)
letter(ax, '(c)', y=0.85)

''' (d) rain '''
ax = axes[3]
t, v = xy(rain_acc)
ax.plot(t, v, color='black', lw=1.6, zorder=3)
style(ax, (0, 60), 20, 10, right=False)
ylab(ax, 'Rain accumulation (mm)', 0.51)
ax2 = ax.twinx()
t, v = xy(rain_rate)
ax2.plot(t, v, color='red', lw=1.5)
ax2.set_ylim(0, 25)
ax2.yaxis.set_major_locator(MultipleLocator(5))
ax2.tick_params(direction='in', length=9, width=1.4, labelsize=12.5)
ylab(ax2, 'Rain rate (mm h$^{-1}$)', 0.51, side='right')
ax.set_zorder(ax2.get_zorder() + 1)
ax.patch.set_visible(False)
legend(ax, 0.805, 0.93, hl=1.1,
       handles=[Line2D([], [], color='black', lw=2.2, label='Rain accumulation'),
                Line2D([], [], color='red', lw=2.2, label='Rain rate')])
letter(ax, '(d)', y=0.67)

''' (e) temperature '''
ax = axes[4]
t, v = xy(t_air)
ax.plot(t, v, color='black', lw=lw_data, label='Air surface temp.')
t, v = xy(sst)
ax.plot(t, v, color='black', lw=lw_data, ls=dash, label='SST')
style(ax, (12, 18), 2, 1)
ylab(ax, 'Temperature (C)', 0.46)
legend(ax, 0.812, 0.30)
letter(ax, '(e)', y=0.865)

''' (f) specific humidity '''
ax = axes[5]
t, v = xy(q_air)
ax.plot(t, v, color='black', lw=lw_data, label='Air surface q')
t, v = xy(ssq)
ax.plot(t, v, color='black', lw=lw_data, ls=dash, label='SSq')
style(ax, (8, 12), 1)
ylab(ax, 'Specific humidity (g kg$^{-1}$)', 0.51)
legend(ax, 0.845, 0.30)
letter(ax, '(f)', y=0.865)

''' (g) surface fluxes '''
ax = axes[6]
ax.axhline(0, color='#9a9a9a', lw=1.0, ls=(0, (5, 4)), zorder=1)
t, v = xy(latent)
ax.plot(t, v, color='black', lw=lw_data, label='Latent heat')
t, v = xy(sensible)
ax.plot(t, v, color='black', lw=lw_data, ls=dash, label='Sensible heat')
style(ax, (-40, 80), 40, 20, bottom_labels=True)
ax.tick_params(axis='x', pad=6)
ylab(ax, 'Sea sfc. flux (W m$^{-2}$)', 0.5)
legend(ax, 0.838, 0.925)
letter(ax, '(g)', x=0.807, y=0.836)

''' Vertical event lines through all panels '''
trans = blended_transform_factory(axes[0].transData, fig.transFigure)


def fy(px):
    return 1 - px / H


for d, top in zip(front_days, [90, 53]):
    fig.add_artist(Line2D([d, d], [fy(top), fy(1337)], transform=trans, color='black',
                          lw=2.0, ls=(0, (4, 3)), zorder=5))
for d, lab, top in zip(event_days, event_labels, [95, 52, 52, 53, 53]):
    fig.add_artist(Line2D([d, d], [fy(top), fy(1335)], transform=trans, color=green,
                          lw=2.2, zorder=6))
    fig.text(d, fy(183), lab, transform=trans, ha='center', va='center', color=green,
             fontsize=16, fontweight='bold', zorder=7,
             bbox=dict(boxstyle='square,pad=0.2', fc='white', ec=green, lw=2.2))

''' Title and x label '''
fig.text(535 / W, fy(18), 'Ron H. Brown time series; 20-26 Jan 2015', ha='center', va='center',
         fontsize=14.5)
fig.text(508 / W, fy(1378), 'Julian day', ha='left', va='center', fontsize=12.5)
fig.add_artist(Line2D([465 / W, 497 / W], [fy(1378), fy(1378)], color='black', lw=1.2))
fig.add_artist(Line2D([465 / W], [fy(1378)], marker='<', markersize=6, color='black', lw=0))

plt.savefig('out.png', dpi=100)
